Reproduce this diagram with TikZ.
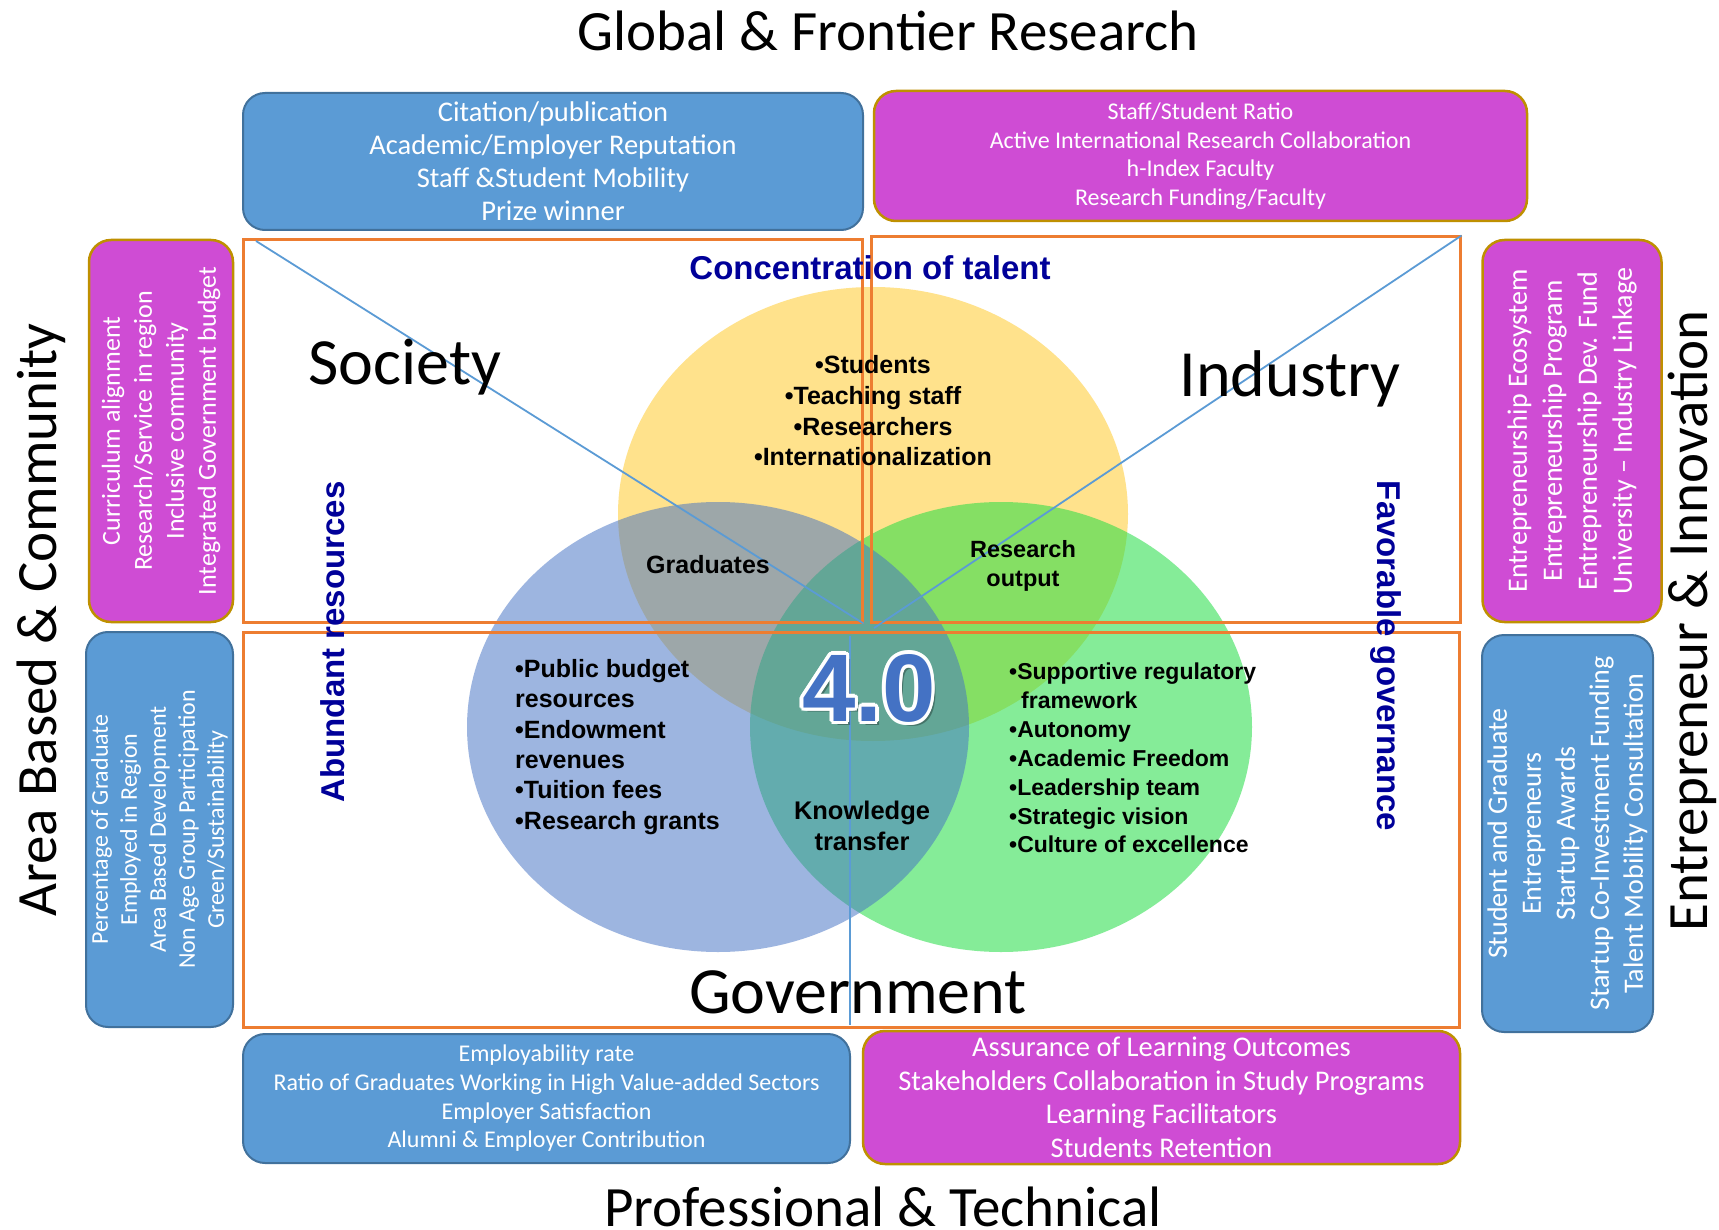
\documentclass[tikz,border=0pt]{standalone}
\usepackage{fontspec}
\setmainfont{Carlito}
\newfontfamily\arialf{Liberation Sans}
\newcommand\fsz[2]{\fontsize{#1}{#2}\selectfont}
\definecolor{boxblue}{HTML}{5B9BD5}
\definecolor{boxblueline}{HTML}{41719C}
\definecolor{boxmag}{HTML}{CF4CD4}
\definecolor{boxmagline}{HTML}{BF9000}
\definecolor{frameorange}{HTML}{ED7D31}
\definecolor{linkblue}{HTML}{5B9BD5}
\definecolor{navytext}{HTML}{000099}
\definecolor{vyellow}{HTML}{FFC000}
\definecolor{vgreen}{RGB}{34,221,68}
\definecolor{vblue}{HTML}{4472C4}
\tikzset{
  bluebox/.style={draw=boxblueline, line width=2pt, fill=boxblue, rounded corners=22pt, text=white, align=center, inner sep=0pt},
  magbox/.style={draw=boxmagline, line width=2.5pt, fill=boxmag, rounded corners=22pt, text=white, align=center, inner sep=0pt},
  orangeframe/.style={draw=frameorange, line width=3pt, inner sep=0pt},
  linkline/.style={draw=linkblue, line width=1.8pt},
  titletext/.style={font=\fsz{57}{68}, text=black, inner sep=0pt},
  sectortext/.style={font=\fsz{66}{79}, text=black, inner sep=0pt},
  themetext/.style={font=\arialf\bfseries\fsz{33}{40}, text=navytext, inner sep=0pt},
  venntext/.style={text=black, inner sep=0pt},
  fourtext/.style={font=\arialf\bfseries\fsz{96}{110}, inner sep=0pt}
}
\begin{document}
\begin{tikzpicture}[x=1pt,y=-1pt]
\useasboundingbox (0,0) rectangle (1719,1230);
\fill[white] (0,0) rectangle (1719,1230);

% Venn ellipses
\fill[vyellow, fill opacity=.45] (873,514) ellipse [x radius=255, y radius=227];
\fill[vgreen, fill opacity=.55] (1001,727) ellipse [x radius=251, y radius=225];
\fill[vblue, fill opacity=.52] (718,727) ellipse [x radius=251, y radius=225];

% orange frames
\node[orangeframe, minimum width=619pt, minimum height=382pt] (secSociety) at (552.5,431) {};
\node[orangeframe, minimum width=589pt, minimum height=385pt] (secIndustry) at (1165.5,429.5) {};
\node[orangeframe, minimum width=1216pt, minimum height=395pt] (secGov) at (851,829.5) {};

% blue connector lines
\coordinate (sStart) at (256,241);
\coordinate (iEnd) at (874,628);
\coordinate (gTop) at (850,636);
\coordinate (gBot) at (850,1025);
\draw[linkline] (sStart) -- (secSociety.south east);
\draw[linkline] (secIndustry.north east) -- (iEnd);
\draw[linkline] (gTop) -- (gBot);

% titles
\node[titletext] (tGlobal) at (888,31) {Global \& Frontier Research};
\node[titletext] (tProf) at (883,1207) {Professional \& Technical};
\node[titletext, rotate=90] (tArea) at (41,620) {Area Based \& Community};
\node[titletext, rotate=90] (tEntre) at (1692,621) {Entrepreneur \& Innovation};

% KPI boxes
\node[bluebox, minimum width=620pt, minimum height=137pt, font=\fsz{28.5}{33}] (kGlobalA) at (553,161.5)
  {Citation/publication\\Academic/Employer Reputation\\Staff \&Student Mobility\\Prize winner};
\node[magbox, minimum width=653pt, minimum height=130pt, font=\fsz{24}{28.5}] (kGlobalB) at (1200.5,156)
  {Staff/Student Ratio\\Active International Research Collaboration\\h-Index Faculty\\Research Funding/Faculty};
\node[magbox, rotate=90, minimum width=382pt, minimum height=144pt, font=\fsz{26}{32}] (kAreaA) at (161,431)
  {Curriculum alignment\\Research/Service in region\\Inclusive community\\Integrated Government budget};
\node[bluebox, rotate=90, minimum width=395pt, minimum height=147pt, font=\fsz{24}{29}] (kAreaB) at (159.5,829.5)
  {Percentage of Graduate\\Employed in Region\\Area Based Development\\Non Age Group Participation\\Green/Sustainability};
\node[magbox, rotate=90, minimum width=382pt, minimum height=179pt, font=\fsz{28}{35}] (kEntreA) at (1572,431)
  {Entrepreneurship Ecosystem\\Entrepreneurship Program\\Entrepreneurship Dev. Fund\\University -- Industry Linkage};
\node[bluebox, rotate=90, minimum width=397pt, minimum height=171pt, font=\fsz{28}{34}] (kEntreB) at (1567.5,833.5)
  {Student and Graduate\\Entrepreneurs\\Startup Awards\\Startup Co-Investment Funding\\Talent Mobility Consultation};
\node[bluebox, minimum width=607pt, minimum height=129pt, font=\fsz{24}{28.7}] (kProfA) at (546.5,1098.5)
  {Employability rate\\Ratio of Graduates Working in High Value-added Sectors\\Employer Satisfaction\\Alumni \& Employer Contribution};
\node[magbox, minimum width=597pt, minimum height=133pt, font=\fsz{28.5}{33.5}] (kProfB) at (1161.5,1097.5)
  {Assurance of Learning Outcomes\\Stakeholders Collaboration in Study Programs\\Learning Facilitators\\Students Retention};

% sector words
\node[sectortext] (sSociety) at (405,367) {Society};
\node[sectortext] (sIndustry) at (1290,379) {Industry};
\node[sectortext] (sGov) at (858,992) {Government};

% theme labels
\node[themetext] (thConc) at (870,268) {Concentration of talent};
\node[themetext, rotate=90] (thAbund) at (333,642) {Abundant resources};
\node[themetext, rotate=-90] (thFav) at (1386,656) {Favorable governance};

% Venn texts
\node[venntext, align=center, font=\arialf\bfseries\fsz{25}{30.7}] (vTalent) at (873,411)
  {•Students\\•Teaching staff\\•Researchers\\•Internationalization};
\node[venntext, font=\arialf\bfseries\fsz{25}{30}] (vGrad) at (708,565) {Graduates};
\node[venntext, align=center, font=\arialf\bfseries\fsz{23.5}{29}] (vResOut) at (1023,566) {Research\\output};
\node[venntext, align=center, font=\arialf\bfseries\fsz{25.5}{31}] (vKnow) at (862,826) {Knowledge\\transfer};
\node[venntext, align=left, anchor=west, font=\arialf\bfseries\fsz{25}{30.3}] (vFund) at (515,747)
  {•Public budget\\resources\\•Endowment\\revenues\\•Tuition fees\\•Research grants};
\node[venntext, align=left, anchor=west, font=\arialf\bfseries\fsz{23}{28.9}] (vGovern) at (1009,758)
  {•Supportive regulatory\\\hspace*{12pt}framework\\•Autonomy\\•Academic Freedom\\•Leadership team\\•Strategic vision\\•Culture of excellence};

% 4.0 with shadow and white outline
\node[fourtext, text=black, opacity=.3] (fourShadow) at (873,692) {4.0};
\foreach \a in {0,30,...,330}
  \node[fourtext, text=white, shift={(\a:3.5)}] (fourRim\a) at (869,688) {4.0};
\node[fourtext, text=vblue] (four) at (869,688) {4.0};
\end{tikzpicture}
\end{document}
